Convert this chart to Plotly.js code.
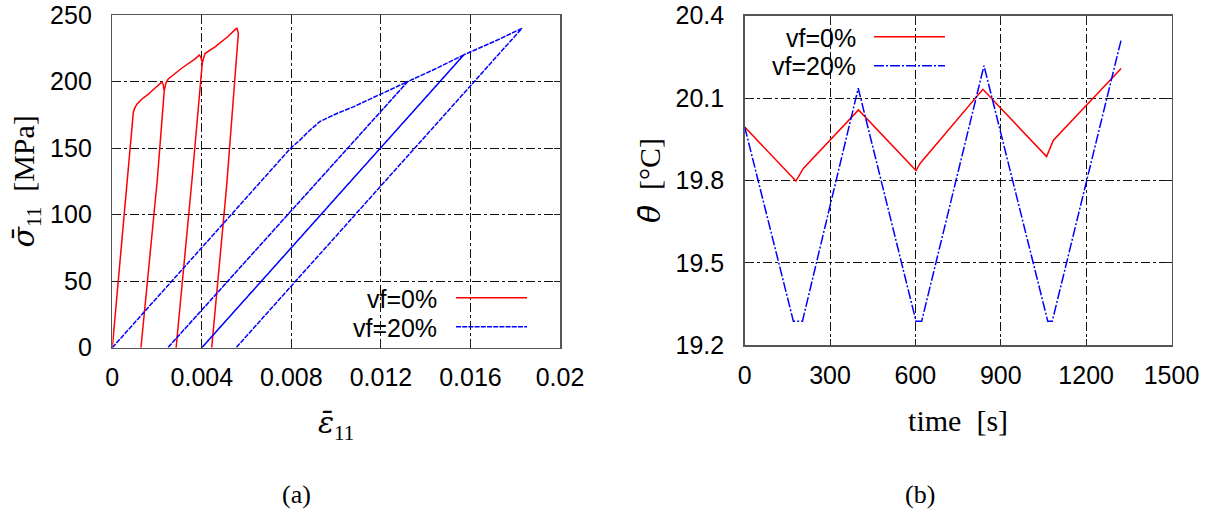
<!DOCTYPE html>
<html>
<head>
<meta charset="utf-8">
<script src="https://cdn.plot.ly/plotly-3.0.1.min.js"></script>
<style>html,body{margin:0;padding:0;background:#fff;}#chart{width:1218px;height:512px;}</style>
</head>
<body>
<div id="chart"></div>
<script>
// ---------- (a) stress-strain ----------
const seriesNames = ["vf=0%", "vf=20%"];
const strain0 = [0, 0.00094, 0.00100, 0.00110, 0.00130, 0.00161, 0.00190, 0.00221, 0.00227, 0.00232, 0.00201, 0.00128, 0.00201, 0.00232, 0.00240, 0.00250, 0.00310, 0.00370, 0.00389, 0.00396, 0.00402, 0.00356, 0.00285, 0.00356, 0.00402, 0.00414, 0.00459, 0.00518, 0.00548, 0.00557, 0.00563, 0.00511, 0.00444];
const stress0 = [0, 177, 180, 183, 186.5, 190.5, 195, 199.5, 198, 193, 126, 0, 126, 193, 199, 202, 210, 217, 220, 218, 214, 126, 0, 126, 214, 221, 226, 234, 239, 240, 236, 122, 0];
const strain20 = [0, 0.00797, 0.00838, 0.00880, 0.00928, 0.01003, 0.01077, 0.01196, 0.01270, 0.01320, 0.00248, 0.01320, 0.01450, 0.01570, 0.00400, 0.01570, 0.01718, 0.01830, 0.00553];
const stress20 = [0, 150, 156, 163, 170, 176, 181, 190, 196, 200, 0, 200, 210, 220, 0, 220, 231, 240, 0];
const strainTicks = [0, 0.004, 0.008, 0.012, 0.016, 0.02];
const strainTickText = ["0", "0.004", "0.008", "0.012", "0.016", "0.02"];
const stressTicks = [0, 50, 100, 150, 200, 250];

// ---------- (b) temperature-time ----------
const time0 = [0, 180, 206, 400, 602, 617, 837, 1061, 1085, 1323];
const theta0 = [19.995, 19.798, 19.844, 20.057, 19.836, 19.863, 20.132, 19.887, 19.947, 20.208];
const time20 = [0, 171, 203, 399, 602, 622, 841, 1065, 1081, 1323];
const theta20 = [19.995, 19.288, 19.288, 20.136, 19.288, 19.288, 20.218, 19.288, 19.288, 20.312];
const timeTicks = [0, 300, 600, 900, 1200, 1500];
const thetaTicks = [19.2, 19.5, 19.8, 20.1, 20.4];
const thetaTickText = ["19.2", "19.5", "19.8", "20.1", "20.4"];

const RED = "#ff0000", BLUE = "#0000ff";
const DASH_A = "5px,1.2px", DASH_B = "10px,2px,2px,2px";
const W = 1218, H = 512;
const px = v => v / W, py = v => 1 - v / H;

const traces = [
  {x: strain0, y: stress0, xaxis: "x", yaxis: "y", mode: "lines", name: seriesNames[0],
   line: {color: RED, width: 1.5}},
  {x: strain20, y: stress20, xaxis: "x", yaxis: "y", mode: "lines", name: seriesNames[1],
   line: {color: BLUE, width: 1.5, dash: DASH_A}},
  {x: time0, y: theta0, xaxis: "x2", yaxis: "y2", mode: "lines", name: seriesNames[0],
   line: {color: RED, width: 1.5}},
  {x: time20, y: theta20, xaxis: "x2", yaxis: "y2", mode: "lines", name: seriesNames[1],
   line: {color: BLUE, width: 1.5, dash: DASH_B}}
];

const tickFont = {family: "Liberation Sans, Arial, sans-serif", size: 25, color: "#000"};
const titleFont = {family: "Liberation Serif, Times New Roman, serif", size: 30, color: "#000"};
const capFont = {family: "Liberation Serif, serif", size: 26, color: "#000"};
const axisCommon = {
  showline: true, linecolor: "#555", linewidth: 1.5, mirror: "ticks",
  ticks: "inside", ticklen: 6, tickcolor: "#222", tickwidth: 1,
  showgrid: true, gridcolor: "#111", gridwidth: 1, griddash: "dashdot",
  zeroline: false, tickfont: tickFont, fixedrange: true, automargin: false
};
const sym = s => "<span style=\"font-family:'DejaVu Serif'\"><i>" + s + "</i></span>";

const layout = {
  width: W, height: H,
  margin: {l: 0, r: 0, t: 0, b: 0},
  paper_bgcolor: "#fff", plot_bgcolor: "#fff",
  showlegend: false,
  xaxis: Object.assign({}, axisCommon, {domain: [px(112.3), px(560)], range: [0, 0.02], anchor: "y",
    tickmode: "array", tickvals: strainTicks, ticktext: strainTickText, ticklabelstandoff: 7,
    title: {text: sym("ε̄") + "<sub>11</sub>", font: titleFont, standoff: 22}}),
  yaxis: Object.assign({}, axisCommon, {domain: [py(347.7), py(15)], range: [0, 250], anchor: "x",
    tickmode: "array", tickvals: stressTicks, ticklabelstandoff: 14,
    title: {text: sym("σ̄") + "<sub>11</sub>  [MPa]", font: titleFont, standoff: 6}}),
  xaxis2: Object.assign({}, axisCommon, {domain: [px(744.7), px(1171.5)], range: [0, 1500], anchor: "y2",
    tickmode: "array", tickvals: timeTicks, ticklabelstandoff: 7,
    title: {text: "time  [s]", font: titleFont, standoff: 22}}),
  yaxis2: Object.assign({}, axisCommon, {domain: [py(345.3), py(15.7)], range: [19.2, 20.4], anchor: "x2",
    tickmode: "array", tickvals: thetaTicks, ticktext: thetaTickText, ticklabelstandoff: 14,
    title: {text: sym("θ̄") + "  [°C]", font: titleFont, standoff: 6}}),
  shapes: [
    {type: "line", xref: "paper", yref: "paper", x0: px(456), x1: px(527), y0: py(297.7), y1: py(297.7), line: {color: RED, width: 1.5}},
    {type: "line", xref: "paper", yref: "paper", x0: px(456), x1: px(527), y0: py(326.7), y1: py(326.7), line: {color: BLUE, width: 1.5, dash: DASH_A}},
    {type: "line", xref: "paper", yref: "paper", x0: px(874), x1: px(945), y0: py(36.7), y1: py(36.7), line: {color: RED, width: 1.5}},
    {type: "line", xref: "paper", yref: "paper", x0: px(874), x1: px(945), y0: py(65.7), y1: py(65.7), line: {color: BLUE, width: 1.5, dash: DASH_B}}
  ],
  annotations: [
    {text: seriesNames[0], xref: "paper", yref: "paper", x: px(439), y: py(299), xanchor: "right", yanchor: "middle", showarrow: false, font: tickFont},
    {text: seriesNames[1], xref: "paper", yref: "paper", x: px(439), y: py(327.5), xanchor: "right", yanchor: "middle", showarrow: false, font: tickFont},
    {text: seriesNames[0], xref: "paper", yref: "paper", x: px(858), y: py(37.5), xanchor: "right", yanchor: "middle", showarrow: false, font: tickFont},
    {text: seriesNames[1], xref: "paper", yref: "paper", x: px(858), y: py(65.5), xanchor: "right", yanchor: "middle", showarrow: false, font: tickFont},
    {text: "(a)", xref: "paper", yref: "paper", x: px(296), y: py(494), xanchor: "center", yanchor: "middle", showarrow: false, font: capFont},
    {text: "(b)", xref: "paper", yref: "paper", x: px(920), y: py(494), xanchor: "center", yanchor: "middle", showarrow: false, font: capFont}
  ]
};

Plotly.newPlot("chart", traces, layout, {displayModeBar: false, staticPlot: true});
</script>
</body>
</html>
